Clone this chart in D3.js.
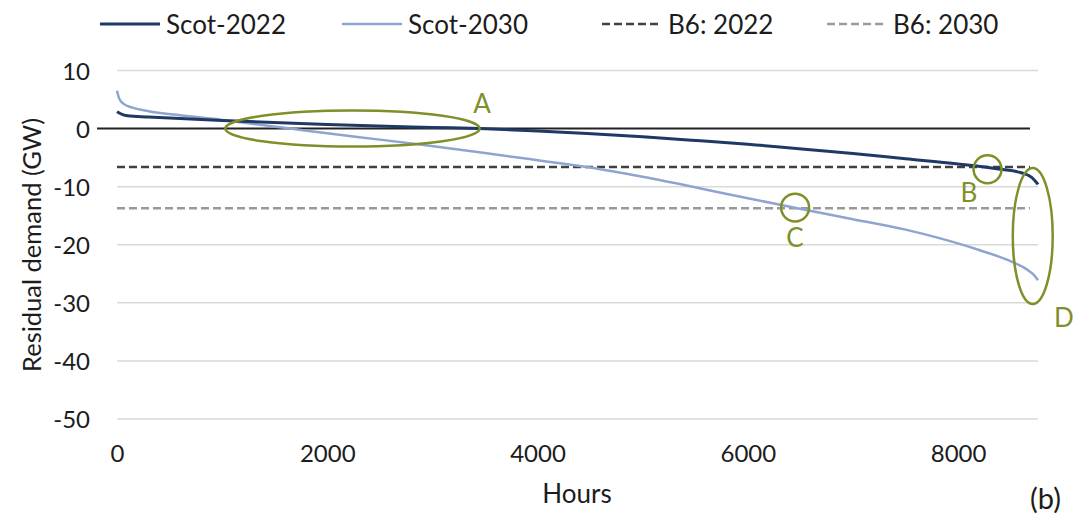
<!DOCTYPE html>
<html>
<head>
<meta charset="utf-8">
<script src="https://cdn.jsdelivr.net/npm/d3@7"></script>
<style>
  html, body { margin: 0; padding: 0; background: #fff; }
  svg { display: block; font-family: "Lato", "Open Sans", sans-serif; }
</style>
</head>
<body>
<svg id="chart" width="1073" height="520"></svg>
<script>
// Sorted residual demand duration curves (hours vs GW)
const hours2022 = [0, 30, 100, 300, 1000, 2000, 3000, 3450, 4000, 5000, 5550, 6000, 7000, 7500, 8000, 8400, 8600, 8700, 8760];
const scot2022  = [2.9, 2.6, 2.2, 2.0, 1.4, 0.7, 0.2, 0.0, -0.4, -1.4, -2.1, -2.7, -4.3, -5.2, -6.1, -7.0, -7.6, -8.4, -9.6];

const hours2030 = [0, 20, 60, 150, 300, 600, 1000, 1300, 1650, 2000, 2500, 2900, 3500, 4100, 4500, 5000, 5550, 6000, 6470, 7000, 7500, 7830, 8200, 8520, 8650, 8720, 8760];
const scot2030  = [6.5, 5.2, 4.3, 3.6, 3.0, 2.3, 1.5, 0.8, 0.0, -0.8, -1.9, -2.8, -4.2, -5.7, -6.7, -8.3, -10.3, -12.0, -13.7, -15.6, -17.4, -18.9, -20.9, -23.0, -24.2, -25.2, -26.1];

// Boundary B6 transfer limits (GW, as negative residual demand)
const b6Values = [-6.6, -13.7];
const b6Labels = ["B6: 2022", "B6: 2030"];

const xTicks = [0, 2000, 4000, 6000, 8000];
const yTicks = [10, 0, -10, -20, -30, -40, -50];
const legendLabels = ["Scot-2022", "Scot-2030", "B6: 2022", "B6: 2030"];

// Highlighted regions: ellipses in data units (hour centre, GW centre, hour radius, GW radius)
const markNames = ["A", "B", "C", "D"];
const markCx = [2240, 8280, 6450, 8710];
const markCy = [0.0, -7.0, -13.6, -18.5];
const markRx = [1210, 133, 133, 190];
const markRy = [3.1, 2.4, 2.4, 11.7];

const svg = d3.select("#chart");
const x = d3.scaleLinear().domain([0, 8760]).range([117, 1038]);
const y = d3.scaleLinear().domain([-50, 10]).range([419, 70.5]);

const navy = "#1f3864";
const light = "#8fa5cf";
const olive = "#7f8f2a";
const ink = "#1c1c1c";
const fmt = d => String(d);   // plain hyphen-minus for negatives

// Horizontal gridlines
svg.append("g").selectAll("line")
  .data(yTicks.filter(d => d !== 0))
  .join("line")
  .attr("x1", x(0)).attr("x2", x(8760))
  .attr("y1", d => y(d)).attr("y2", d => y(d))
  .attr("stroke", "#d9d9d9").attr("stroke-width", 1.5);

// Y tick labels
const yAxis = d3.axisLeft(y).tickValues(yTicks).tickSize(0).tickPadding(0).tickFormat(fmt);
const gy = svg.append("g").attr("transform", "translate(90,0)").call(yAxis);
gy.select(".domain").remove();
gy.selectAll("text").attr("font-size", 24).attr("fill", ink).attr("font-family", "Lato, sans-serif").attr("dy", "0.36em");

// X tick labels
const xAxis = d3.axisBottom(x).tickValues(xTicks).tickSize(0).tickPadding(0).tickFormat(fmt);
const gx = svg.append("g").attr("transform", "translate(0,445)").call(xAxis);
gx.select(".domain").remove();
gx.selectAll("text").attr("font-size", 24).attr("fill", ink).attr("font-family", "Lato, sans-serif").attr("dy", "0.71em");

// Zero line
svg.append("line")
  .attr("x1", 97).attr("x2", 1030)
  .attr("y1", y(0)).attr("y2", y(0))
  .attr("stroke", "#222").attr("stroke-width", 2);

// B6 limit lines
const b6Colors = ["#404040", "#9a9a9a"];
svg.append("g").selectAll("line")
  .data(b6Values)
  .join("line")
  .attr("x1", x(0)).attr("x2", 1030)
  .attr("y1", d => y(d)).attr("y2", d => y(d))
  .attr("stroke", (d, i) => b6Colors[i])
  .attr("stroke-width", 2.5)
  .attr("stroke-dasharray", "8,4");

// Duration curves
const line = d3.line().x(d => x(d[0])).y(d => y(d[1])).curve(d3.curveMonotoneX);
svg.append("path")
  .datum(d3.zip(hours2030, scot2030))
  .attr("d", line).attr("fill", "none")
  .attr("stroke", light).attr("stroke-width", 2.5);
svg.append("path")
  .datum(d3.zip(hours2022, scot2022))
  .attr("d", line).attr("fill", "none")
  .attr("stroke", navy).attr("stroke-width", 3);

// Highlight ellipses
svg.append("g").selectAll("ellipse")
  .data(markNames)
  .join("ellipse")
  .attr("cx", (d, i) => x(markCx[i]))
  .attr("cy", (d, i) => y(markCy[i]))
  .attr("rx", (d, i) => x(markRx[i]) - x(0))
  .attr("ry", (d, i) => y(0) - y(markRy[i]))
  .attr("fill", "none").attr("stroke", olive).attr("stroke-width", 2.5);

const markLabelX = [482, 969, 795, 1054];
const markLabelY = [113, 202, 247, 327];
const markAnchor = ["middle", "middle", "middle", "start"];
svg.append("g").selectAll("text")
  .data(markNames)
  .join("text")
  .attr("x", (d, i) => markLabelX[i])
  .attr("y", (d, i) => markLabelY[i])
  .attr("text-anchor", (d, i) => markAnchor[i])
  .attr("font-size", 26).attr("fill", olive)
  .text(d => d);

// Legend
const legX = [100, 342, 602, 827];
const legStroke = [navy, light, "#404040", "#9a9a9a"];
const legDash = [null, null, "8,4", "8,4"];
const leg = svg.append("g").selectAll("g")
  .data(legendLabels)
  .join("g")
  .attr("transform", (d, i) => `translate(${legX[i]},24)`);
leg.append("line")
  .attr("x1", 0).attr("x2", 60).attr("y1", 0).attr("y2", 0)
  .attr("stroke", (d, i) => legStroke[i])
  .attr("stroke-width", (d, i) => i === 0 ? 3 : 2.5)
  .attr("stroke-dasharray", (d, i) => legDash[i]);
leg.append("text")
  .attr("x", 66).attr("y", 10)
  .attr("font-size", 26).attr("fill", ink)
  .text(d => d);

// Axis titles
svg.append("text")
  .attr("transform", "translate(41,245) rotate(-90)")
  .attr("text-anchor", "middle")
  .attr("font-size", 25.5).attr("fill", ink)
  .text("Residual demand (GW)");
svg.append("text")
  .attr("x", 577).attr("y", 503)
  .attr("text-anchor", "middle")
  .attr("font-size", 26).attr("fill", ink)
  .text("Hours");
svg.append("text")
  .attr("x", 1030).attr("y", 509)
  .attr("font-size", 29).attr("fill", ink)
  .text("(b)");
</script>
</body>
</html>
